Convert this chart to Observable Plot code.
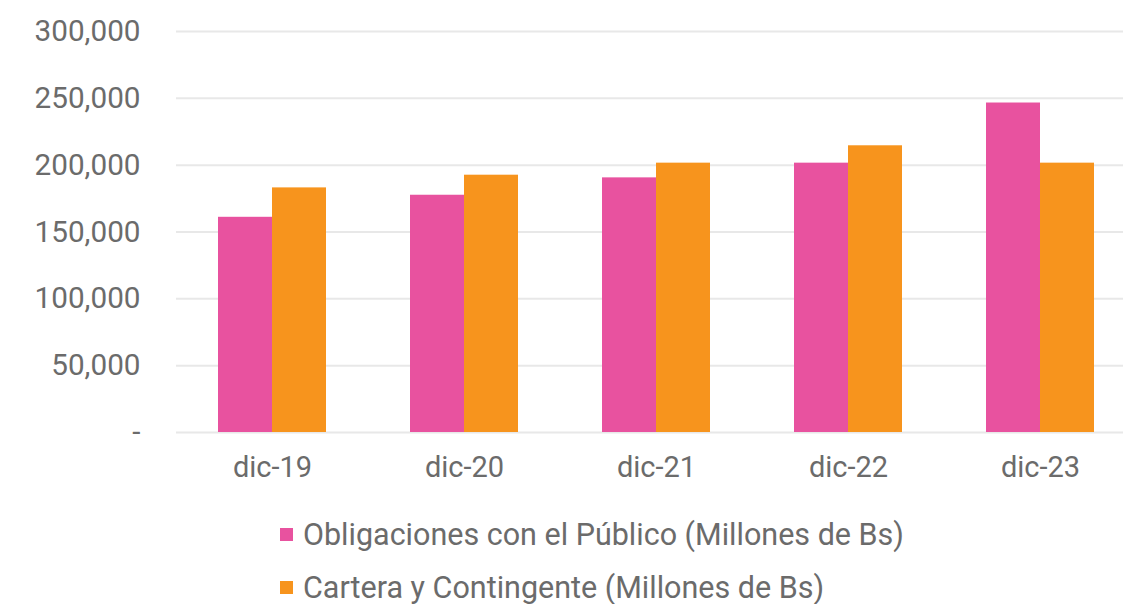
<!DOCTYPE html>
<html>
<head>
<meta charset="utf-8">
<script src="https://cdn.jsdelivr.net/npm/d3@7"></script>
<script src="https://cdn.jsdelivr.net/npm/@observablehq/plot@0.6"></script>
<style>
  html, body { margin: 0; padding: 0; background: #fff; overflow: hidden; }
  body { width: 1123px; height: 604px; font-family: Roboto, "Noto Sans", sans-serif; }
  #chart { width: 1123px; height: 500px; overflow: hidden; }
  #legend { margin-left: 280px; padding-top: 8px; color: #6b6b6b; font-size: 30.5px; }
  .row { display: flex; align-items: center; height: 53px; }
  .sw { width: 13px; height: 13px; margin-right: 10px; }
</style>
</head>
<body>
<div id="chart"></div>
<div id="legend"></div>
<script>
const categories = ["dic-19", "dic-20", "dic-21", "dic-22", "dic-23"];
const seriesNames = ["Obligaciones con el Público (Millones de Bs)", "Cartera y Contingente (Millones de Bs)"];
const obligaciones = [161000, 177500, 190500, 201500, 246500];
const cartera = [183000, 192500, 201500, 214500, 201500];
const yTicks = [0, 50000, 100000, 150000, 200000, 250000, 300000];
const colors = ["#E8529F", "#F7941D"];

const rowsA = categories.map((c, i) => ({cat: c, value: obligaciones[i]}));
const rowsB = categories.map((c, i) => ({cat: c, value: cartera[i]}));

const fmt = d => d === 0 ? "-" : d3.format(",")(d);

const chart = Plot.plot({
  width: 1136,
  height: 500,
  marginLeft: 176,
  marginRight: 0,
  marginTop: 31,
  marginBottom: 68,
  style: {fontFamily: "Roboto, 'Noto Sans', sans-serif", fontSize: "29.7px", color: "#6b6b6b", background: "#fff", maxWidth: "none"},
  x: {domain: categories, paddingInner: 0.4375, paddingOuter: 0.21875, label: null},
  y: {domain: [0, 300000], label: null},
  marks: [
    Plot.ruleY(yTicks, {stroke: "#e8e8e8", strokeWidth: 2}),
    Plot.barY(rowsA, {x: "cat", y: "value", fill: colors[0], insetLeft: 0, insetRight: 54}),
    Plot.barY(rowsB, {x: "cat", y: "value", fill: colors[1], insetLeft: 54, insetRight: 0}),
    Plot.axisY({ticks: yTicks, tickFormat: fmt, tickSize: 0, tickPadding: 36, label: null, fill: "#6b6b6b"}),
    Plot.axisX({tickSize: 0, tickPadding: 24, label: null, fill: "#6b6b6b", fontSize: 29})
  ]
});
chart.style.display = "block";
chart.style.maxWidth = "none";
document.getElementById("chart").appendChild(chart);

const legend = document.getElementById("legend");
seriesNames.forEach((name, i) => {
  const row = document.createElement("div");
  row.className = "row";
  const sw = document.createElement("span");
  sw.className = "sw";
  sw.style.background = colors[i];
  const t = document.createElement("span");
  t.textContent = name;
  row.appendChild(sw);
  row.appendChild(t);
  legend.appendChild(row);
});
</script>
</body>
</html>
